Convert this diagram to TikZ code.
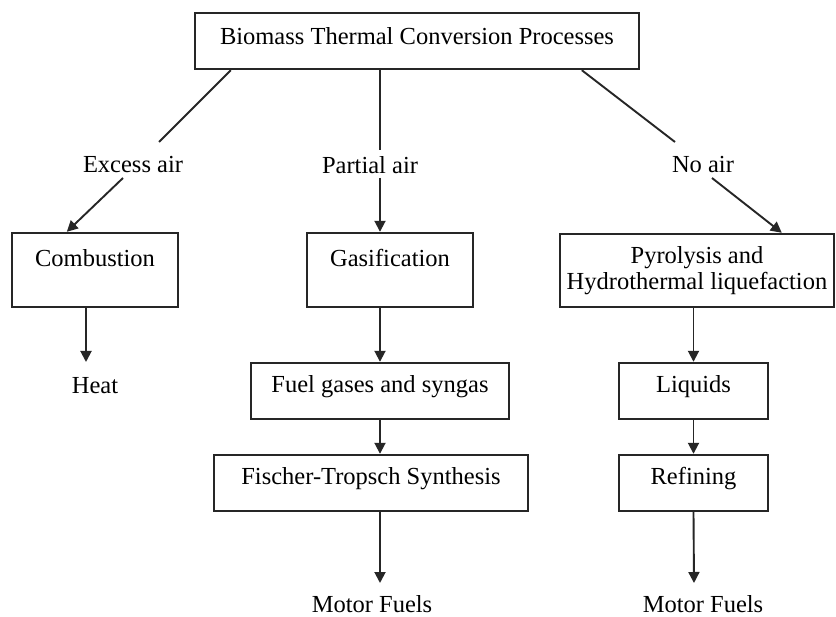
\documentclass[tikz,border=0pt]{standalone}
\usepackage{fontspec}
\setmainfont{Liberation Serif}
\usetikzlibrary{arrows.meta,calc}
\newcommand{\up}[2]{\raisebox{#1pt}[\height][\depth]{#2}}
\begin{document}
\begin{tikzpicture}[x=1pt,y=-1pt,
  every node/.style={font=\fontsize{24.5}{28}\selectfont, text=black},
  box/.style={draw=black!85, line width=2.4pt, rectangle, inner sep=0pt, align=center},
  conn/.style={draw=black!85, line width=1.9pt},
  arr/.style={conn, -{Triangle[length=11pt,width=11pt]}},
  lbl/.style={inner sep=0pt}]
\useasboundingbox (0,0) rectangle (836,617);
\fill[white] (0,0) rectangle (836,617);

\node[box, minimum width=444pt, minimum height=56pt] (top) at (417,41) {\up{5}{Biomass Thermal Conversion Processes}};

\node[lbl] (exc) at (133,165) {Excess air};
\node[lbl] (par) at (370,165) {Partial air};
\node[lbl] (noa) at (703,165) {No air};

\node[box, minimum width=166pt, minimum height=74pt] (comb) at (95,270) {\up{12}{Combustion}};
\node[box, minimum width=166pt, minimum height=74pt] (gas) at (390,270) {\up{12}{Gasification}};
\node[box, minimum width=274pt, minimum height=73pt, align=center] (pyr) at (697,270.5) {Pyrolysis and\\[-2pt]Hydrothermal liquefaction};

\node[lbl] (heat) at (95,386) {Heat};
\node[box, minimum width=258pt, minimum height=56pt] (fuel) at (380,391) {\up{4}{Fuel gases and syngas}};
\node[box, minimum width=314pt, minimum height=56pt] (fis) at (371,483) {\up{4}{Fischer-Tropsch Synthesis}};
\node[lbl] (mf1) at (372,604) {Motor Fuels};
\node[box, minimum width=149pt, minimum height=56pt] (liq) at (693.5,391) {\up{4}{Liquids}};
\node[box, minimum width=149pt, minimum height=56pt] (ref) at (693.5,483) {\up{4}{Refining}};
\node[lbl] (mf2) at (703,604) {Motor Fuels};

% free ends of connectors near the labels
\coordinate (excT) at (159,142);
\coordinate (parT) at (380,150);
\coordinate (noaT) at (675,142);
\coordinate (excB) at (123,178);
\coordinate (parB) at (380,178);
\coordinate (noaB) at (712,178);
\coordinate (heatT) at (86,362);
\coordinate (mf1T) at (380,583);
\coordinate (mf2T) at (694,583);

% from top box to air labels
\draw[conn] ($(top.south west)+(37,0)$) -- (excT);
\draw[conn] (top.south -| parT) -- (parT);
\draw[conn] ($(top.south west)+(388,0)$) -- (noaT);

% air labels to process boxes
\draw[arr] (excB) -- ($(comb.north west)+(56,0)$);
\draw[arr] (parB) -- (gas.north -| parB);
\draw[arr] (noaB) -- ($(pyr.north west)+(223,0)$);

% downstream
\draw[arr] (comb.south -| heatT) -- (heatT);
\draw[arr] (gas.south -| fuel.north) -- (fuel.north);
\draw[arr] (fuel.south) -- (fis.north -| fuel.south);
\draw[arr] (fis.south -| mf1T) -- (mf1T);
\draw[arr] (pyr.south -| liq.north) -- (liq.north);
\draw[arr] (liq.south) -- (ref.north);
\draw[arr] (ref.south) -- (mf2T);
\end{tikzpicture}
\end{document}
